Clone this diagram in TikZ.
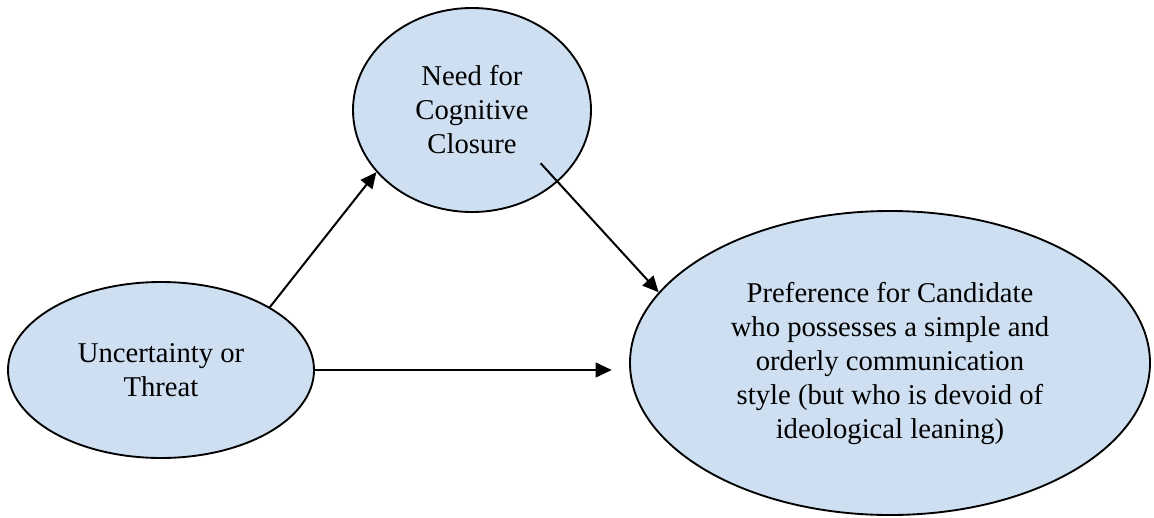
\documentclass[tikz,border=0pt]{standalone}
\usepackage{fontspec}
\setmainfont{Liberation Serif}
\usetikzlibrary{shapes.geometric,arrows.meta,calc}
\definecolor{bubble}{RGB}{206,223,241}
\begin{document}
\begin{tikzpicture}[x=0.75pt,y=-0.75pt,
  concept/.style={ellipse,draw=black,line width=1.4pt,fill=bubble,inner sep=0pt,
    align=center,font=\fontsize{21.5pt}{25.5pt}\selectfont},
  link/.style={line width=1.5pt,-{Triangle[length=12pt,width=11pt]}}]
\useasboundingbox (0,0) rectangle (1154,518);
% the three constructs
\node[concept,minimum width=238*0.75pt,minimum height=204*0.75pt] (ncc) at (472,110)
  {Need for\\Cognitive\\Closure};
\node[concept,minimum width=306*0.75pt,minimum height=176*0.75pt] (unc) at (161,370)
  {Uncertainty or\\Threat};
\node[concept,minimum width=520*0.75pt,minimum height=304*0.75pt] (pref) at (890,363)
  {Preference for Candidate\\who possesses a simple and\\orderly communication\\style (but who is devoid of\\ideological leaning)};
% paths between them
\draw[link] (unc.30) -- (ncc.213);
\draw[link,shorten <=-19pt] (ncc.-40) -- (pref.163);
\draw[link,shorten >=13pt] (unc.east) -- (unc.east -| pref.west);
\end{tikzpicture}
\end{document}
